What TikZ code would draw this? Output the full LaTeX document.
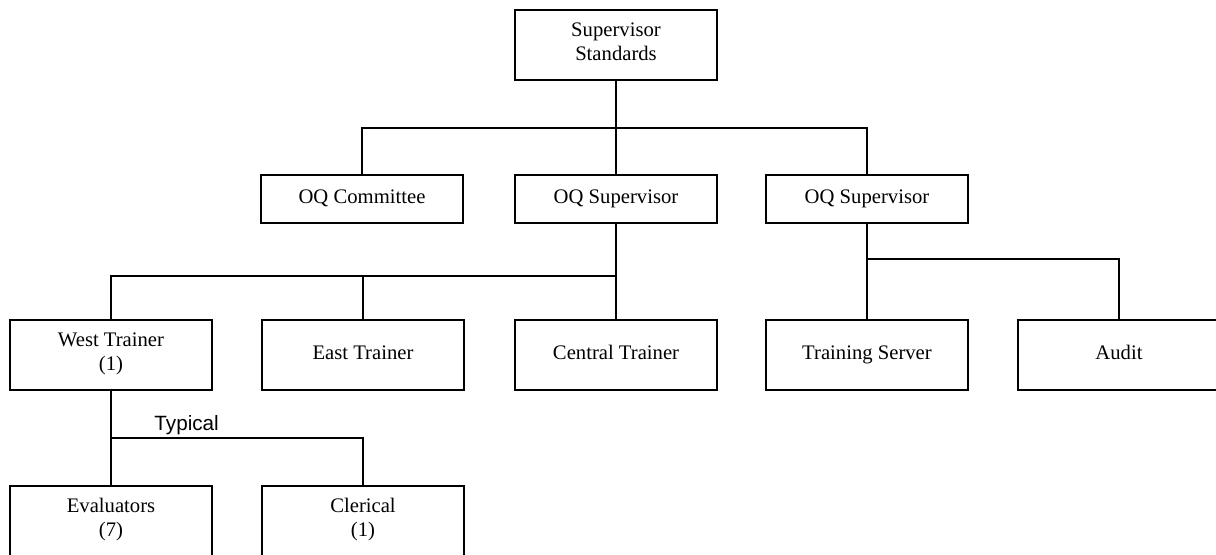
\documentclass[tikz,border=0pt]{standalone}
\usepackage{fontspec}
\setmainfont{Liberation Serif}
\newfontfamily\labelfont{Liberation Sans}
\usetikzlibrary{positioning}

\begin{document}
\begin{tikzpicture}[x=0.75pt, y=-0.75pt,
    orgbox/.style={draw, line width=1.5pt, minimum width=151.5pt, align=center,
      font=\fontsize{15.5}{18}\selectfont, inner sep=0pt,
      execute at begin node=\strut, execute at end node=\strut},
    tallbox/.style={orgbox, minimum height=53pt},
    flatbox/.style={orgbox, minimum height=36pt},
    link/.style={line width=1.5pt}]
  \useasboundingbox (0,0) rectangle (1216,555);
  \clip (0,0) rectangle (1216,555);
  \fill[white] (0,0) rectangle (1216,555);
  \node[tallbox] (std) at (616,45) {Supervisor\\Standards};
  \node[flatbox] (oqc) at (362,199) {OQ Committee};
  \node[flatbox] (oqm) at (616,199) {OQ Supervisor};
  \node[flatbox] (oqr) at (867,199) {OQ Supervisor};
  \node[tallbox] (west) at (111,355) {West Trainer\\(1)};
  \node[tallbox] (east) at (363,355) {East Trainer};
  \node[tallbox] (central) at (616,355) {Central Trainer};
  \node[tallbox] (server) at (867,355) {Training Server};
  \node[tallbox] (audit) at (1119,355) {Audit};
  \node[tallbox] (eval) at (111,521) {Evaluators\\(7)};
  \node[tallbox] (cler) at (363,521) {Clerical\\(1)};
  \coordinate (topbus) at (616,128);
  \coordinate (midbus) at (616,276);
  \coordinate (rightbus) at (867,259);
  \coordinate (westbus) at (111,438);
  \draw[link] (std) -- (oqm);
  \draw[link] (oqc.north) |- (topbus) -| (oqr.north);
  \draw[link] (oqm) -- (central);
  \draw[link] (west.north) |- (midbus);
  \draw[link] (east.north) -- (east.north |- midbus);
  \draw[link] (oqr) -- (server);
  \draw[link] (rightbus) -| (audit.north);
  \draw[link] (west) -- (eval);
  \draw[link] (westbus) -| (cler.north)
    node[pos=0.15, above, font=\labelfont\fontsize{15.5}{18}\selectfont, inner sep=2pt] (typical) {Typical};
\end{tikzpicture}
\end{document}
